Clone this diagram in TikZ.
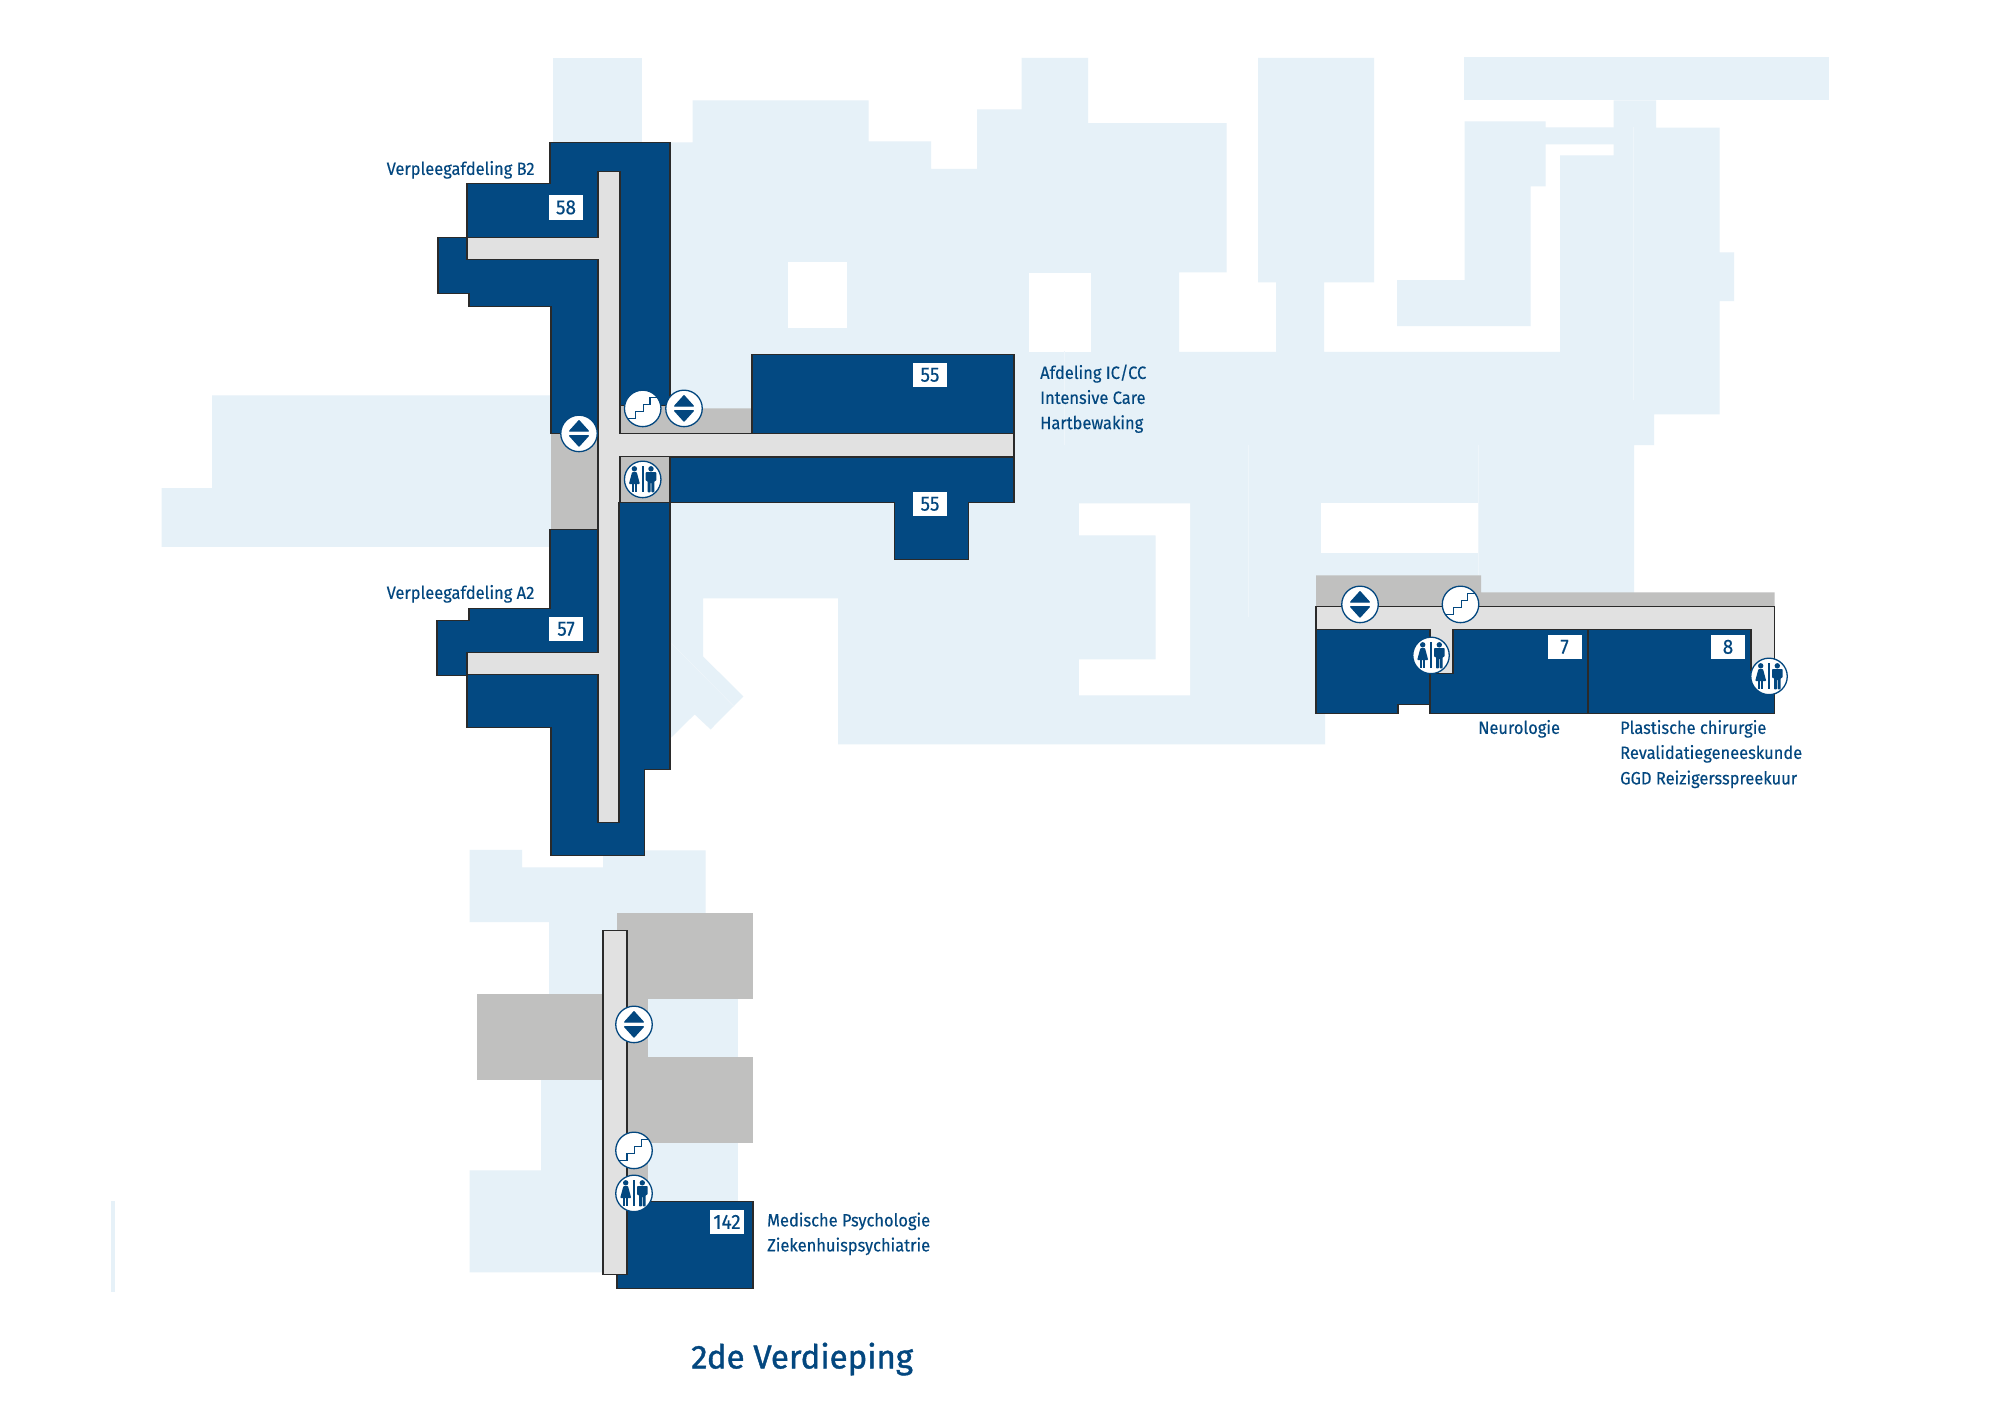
\documentclass[tikz,border=0pt]{standalone}
\usepackage{fontspec}
\setmainfont{Fira Sans}
\newfontfamily\capfont[FakeStretch=0.925,FakeBold=0.3]{Fira Sans}
\newfontfamily\titlefont[FakeBold=1.2]{Fira Sans}
\definecolor{ghost}{HTML}{E6F1F8}
\definecolor{seam}{HTML}{EEF5FA}
\definecolor{ward}{HTML}{034982}
\definecolor{hall}{HTML}{E1E1E1}
\definecolor{service}{HTML}{C0C0BF}
\definecolor{edgeline}{HTML}{2A2A2A}
\definecolor{ink}{HTML}{03477F}
\tikzset{
  ghostfill/.style={fill=ghost},
  seamline/.style={draw=seam,line width=0.6pt},
  servicefill/.style={fill=service},
  wardblock/.style={fill=ward,draw=edgeline,line width=1.2pt,line join=miter},
  hallblock/.style={fill=hall,draw=edgeline,line width=1.2pt,line join=miter},
  caption/.style={anchor=base west,inner sep=0pt,text=ink,font=\capfont\fontsize{17.8}{20}\selectfont},
  numtag/.style={fill=white,text=ink,minimum width=34pt,minimum height=24.5pt,inner sep=0pt,font=\capfont\fontsize{20.5}{22}\selectfont},
  headline/.style={anchor=base west,inner sep=0pt,text=ink,font=\titlefont\fontsize{33}{36}\selectfont},
  iconring/.style={circle,fill=white,draw=ink,line width=1.3pt,minimum size=36.5pt,inner sep=0pt},
  pics/lifticon/.style={code={
    \node[iconring] (-ring) at (0,0) {};
    \fill[ink,draw=ink,line width=1.4pt,line join=round] (0,-12.6) -- (9.2,-2.4) -- (-9.2,-2.4) -- cycle;
    \fill[ink,draw=ink,line width=1.4pt,line join=round] (0,12.6) -- (9.2,2.4) -- (-9.2,2.4) -- cycle;
  }},
  pics/stairicon/.style={code={
    \node[iconring] (-ring) at (0,0) {};
    \draw[ink,line width=1.1pt] (-15,10) -- (-7,10) -- (-7,3.3) -- (0.7,3.3) -- (0.7,-4.3) -- (7.3,-4.3) -- (7.3,-11) -- (14.7,-11);
  }},
  pics/toileticon/.style={code={
    \node[iconring] (-ring) at (0,0) {};
    \fill[ink] (-1,-13) rectangle (1,13);
    \fill[ink] (-8.3,-10.6) circle (2.7);
    \fill[ink,rounded corners=0.8pt] (-10.6,-7.4) -- (-6,-7.4) -- (-2.8,4.6) -- (-13.8,4.6) -- cycle;
    \fill[ink] (-11,4) rectangle (-8.8,13);
    \fill[ink] (-7.8,4) rectangle (-5.6,13);
    \fill[ink] (8.3,-10.6) circle (2.7);
    \fill[ink,rounded corners=0.8pt] (3,-7.4) -- (13.6,-7.4) -- (13.6,1.5) -- (11.6,1.5) -- (11.6,13) -- (8.7,13) -- (8.7,3) -- (7.9,3) -- (7.9,13) -- (5,13) -- (5,1.5) -- (3,1.5) -- cycle;
  }}
}
\begin{document}
\begin{tikzpicture}[x=1pt,y=-1pt]
\useasboundingbox (0,0) rectangle (2000,1414);
\fill[white] (0,0) rectangle (2000,1414);
\begin{scope}[shift={(0,0.4)}]
% ---------- pale surrounding buildings
\fill[ghostfill] (553,58) rectangle (642,150);
\fill[ghostfill] (665,142) -- (692.6,142) -- (692.6,100) -- (868.6,100) -- (868.6,141) -- (931,141) -- (931,168.5) -- (977,168.5) -- (977,109) -- (1021.6,109) -- (1021.6,57.5) -- (1088,57.5) -- (1088,122.6) -- (1226.7,122.6) -- (1226.7,272) -- (1179,272) -- (1179,351.5) -- (1276,351.5) -- (1276,282) -- (1258,282) -- (1258,57.5) -- (1374,57.5) -- (1374,282) -- (1324,282) -- (1324,351.5) -- (1560,351.5) -- (1560,155) -- (1613.7,155) -- (1613.7,100) -- (1656,100) -- (1656,127.3) -- (1719.7,127.3) -- (1719.7,252) -- (1734,252) -- (1734,300.7) -- (1719.7,300.7) -- (1719.7,414) -- (1654,414) -- (1654,444.7) -- (1634,444.7) -- (1634,600) -- (1325,600) -- (1325,744) -- (838,744) -- (838,598) -- (703,598) -- (703,656) -- (743.4,696) -- (710.6,729) -- (694.6,714) -- (671.5,737) -- (665,737) -- cycle;
\fill[ghostfill] (1464.7,121) -- (1545.7,121) -- (1545.7,127) -- (1620,127) -- (1620,144) -- (1545.7,144) -- (1545.7,186) -- (1530.7,186) -- (1530.7,325.7) -- (1397,325.7) -- (1397,279.7) -- (1464.7,279.7) -- cycle;
\fill[ghostfill] (1464,57) rectangle (1829,100);
\fill[ghostfill] (212,395) -- (555,395) -- (555,546.4) -- (161.5,546.4) -- (161.5,487.7) -- (212,487.7) -- cycle;
\fill[ghostfill] (111,1201) rectangle (115,1292);
\fill[ghostfill] (469.5,849.5) -- (522,849.5) -- (522,867) -- (603,867) -- (603,850) -- (705.5,850) -- (705.5,930) -- (620,930) -- (620,1272) -- (469.6,1272) -- (469.6,1170) -- (541,1170) -- (541,1030) -- (549,1030) -- (549,921.7) -- (469.5,921.7) -- cycle;
\fill[ghostfill] (640,990) rectangle (738,1210);
% holes
\fill[white] (787.6,262) rectangle (847.4,328);
\fill[white] (1028.6,272.7) rectangle (1091,351.3);
\fill[white] (1079,503) -- (1190,503) -- (1190,695) -- (1079,695) -- (1079,659) -- (1155.6,659) -- (1155.6,535) -- (1079,535) -- cycle;
\fill[white] (1321,503) rectangle (1479,552.7);
% faint seams
\draw[seamline] (671.5,643) -- (734,706);
\draw[seamline] (1633.7,127) -- (1633.7,400);
\draw[seamline] (1248,445) -- (1248,617);
\draw[seamline] (1478.6,445) -- (1478.6,575);
\draw[seamline] (1064,351) -- (1064,445);
% ---------- service (grey) areas
\fill[servicefill] (551,433) rectangle (598,529);
\fill[servicefill] (620,405) -- (670,405) -- (670,408) -- (752,408) -- (752,433) -- (620,433) -- cycle;
\fill[servicefill] (619,456) rectangle (670,502);
\fill[servicefill] (1316,575) -- (1481,575) -- (1481,592) -- (1774.5,592) -- (1774.5,606) -- (1316,606) -- cycle;
\fill[servicefill] (617,913) rectangle (753,999);
\fill[servicefill] (477,994) rectangle (603,1080);
\fill[servicefill] (627,1057) rectangle (753,1143);
\fill[servicefill] (620,999) rectangle (648,1057);
\fill[servicefill] (620,1143) rectangle (648,1202);
% ---------- wards (blue)
\path[wardblock] (550,142) -- (670,142) -- (670,405) -- (620,405) -- (620,433) -- (551,433) -- (551,306) -- (469,306) -- (469,293) -- (438,293) -- (438,237) -- (467,237) -- (467,183) -- (550,183) -- cycle;
\path[wardblock] (619,502) -- (670,502) -- (670,769) -- (644.5,769) -- (644.5,855) -- (551,855) -- (551,727) -- (467,727) -- (467,675) -- (437,675) -- (437,620) -- (469,620) -- (469,608) -- (550,608) -- (550,529) -- (598,529) -- (598,502) -- cycle;
\path[wardblock] (752,354) rectangle (1014,433);
\path[wardblock] (670,457) -- (1014,457) -- (1014,502) -- (968.6,502) -- (968.6,559) -- (894.5,559) -- (894.5,502) -- (670,502) -- cycle;
\path[wardblock] (1316,629) -- (1430,629) -- (1430,704) -- (1398,704) -- (1398,713) -- (1316,713) -- cycle;
\path[wardblock] (1453,629) -- (1588,629) -- (1588,713) -- (1430,713) -- (1430,673) -- (1453,673) -- cycle;
\path[wardblock] (1588,629) -- (1751,629) -- (1751,670) -- (1774.5,670) -- (1774.5,713) -- (1588,713) -- cycle;
\path[wardblock] (617,1201) rectangle (753,1288);
% ---------- corridors
\path[hallblock] (598,171) -- (620,171) -- (620,433) -- (1014,433) -- (1014,456) -- (620,456) -- (620,502) -- (619,502) -- (619,822) -- (598,822) -- (598,674) -- (467,674) -- (467,652) -- (598,652) -- (598,259) -- (467,259) -- (467,237) -- (598,237) -- cycle;
\path[hallblock] (1316,606) -- (1774.5,606) -- (1774.5,670) -- (1751,670) -- (1751,629) -- (1453,629) -- (1453,673) -- (1430,673) -- (1430,629) -- (1316,629) -- cycle;
\path[hallblock] (603,930) rectangle (627,1274);
% ---------- number tags
\node[numtag] (tag58) at (566,207) {58};
\node[numtag] (tag55a) at (930,374.5) {55};
\node[numtag] (tag55b) at (930,503.5) {55};
\node[numtag] (tag57) at (566,628.5) {57};
\node[numtag] (tag7) at (1564.5,646.5) {7};
\node[numtag] (tag8) at (1728,646.5) {8};
\node[numtag] (tag142) at (727,1221.5) {142};
% ---------- icons
\pic (liftA) at (579,433) {lifticon};
\pic (liftB) at (684,408) {lifticon};
\pic (liftC) at (1360,604) {lifticon};
\pic (liftD) at (634,1024) {lifticon};
\pic (stairA) at (642.7,408) {stairicon};
\pic (stairB) at (1460.5,604) {stairicon};
\pic (stairC) at (634,1150) {stairicon};
\pic (wcA) at (642.7,479) {toileticon};
\pic (wcB) at (1431,655) {toileticon};
\pic (wcC) at (1769,676) {toileticon};
\pic (wcD) at (634,1193) {toileticon};
% ---------- captions
\node[caption] (capB) at (386.5,174.5) {Verpleegafdeling B2};
\node[caption] (capA) at (386.5,598.5) {Verpleegafdeling A2};
\node[caption] (capIC) at (1040,378.5) {Afdeling IC/CC};
\node[caption] (capIntensive) at (1040,403.5) {Intensive Care};
\node[caption] (capHart) at (1040,428.7) {Hartbewaking};
\node[caption] (capNeuro) at (1478,733.5) {Neurologie};
\node[caption] (capPlast) at (1620,733.5) {Plastische chirurgie};
\node[caption] (capReval) at (1620,758.5) {Revalidatiegeneeskunde};
\node[caption] (capGGD) at (1620,784) {GGD Reizigersspreekuur};
\node[caption] (capMed) at (767,1226) {Medische Psychologie};
\node[caption] (capZiek) at (767,1251) {Ziekenhuispsychiatrie};
\node[headline] (title) at (691,1368) {2de Verdieping};
\end{scope}
\end{tikzpicture}
\end{document}
